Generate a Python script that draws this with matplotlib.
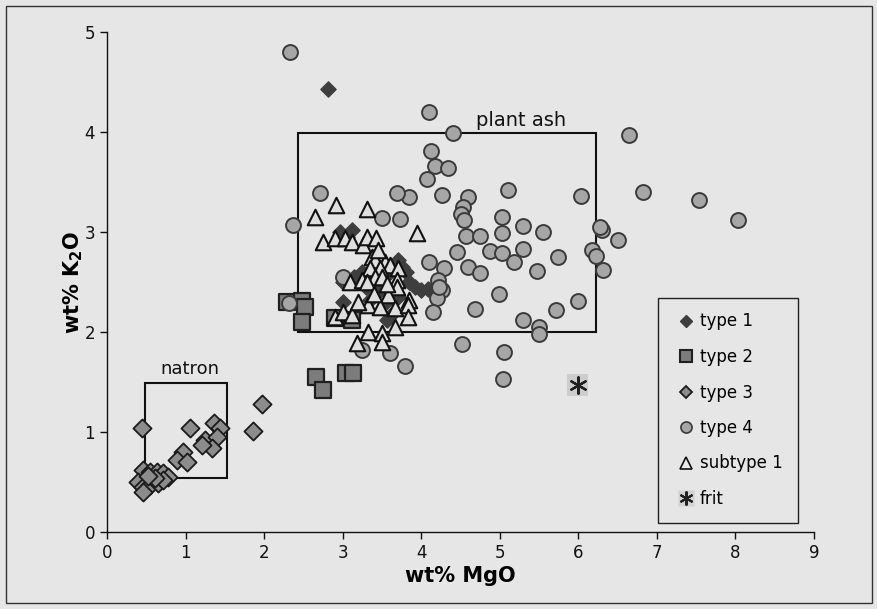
import matplotlib
matplotlib.use("Agg")
import matplotlib.pyplot as plt
from matplotlib.patches import Rectangle
from matplotlib.lines import Line2D
from matplotlib.legend_handler import HandlerTuple

# ---- data ----
type1_x = [2.81, 2.96, 3.12, 3.05, 3.00, 3.15, 3.25, 3.40, 3.50, 3.60, 3.70, 3.75, 3.80, 3.85, 3.92, 4.00, 4.08,
           3.00, 3.35, 3.47, 3.56, 3.65, 3.55, 3.30, 3.70]
type1_y = [4.43, 3.00, 3.02, 2.95, 2.50, 2.55, 2.60, 2.55, 2.45, 2.60, 2.72, 2.65, 2.60, 2.50, 2.45, 2.42, 2.43,
           2.30, 2.32, 2.42, 2.12, 2.20, 2.30, 2.45, 2.35]

type2_x = [2.29, 2.48, 2.52, 2.48, 2.90, 3.12, 2.66, 2.75, 3.04, 3.13]
type2_y = [2.30, 2.31, 2.25, 2.10, 2.14, 2.12, 1.55, 1.42, 1.59, 1.59]

type3_x = [0.45, 1.06, 1.97, 1.86, 1.36, 1.44, 1.25, 1.40, 1.34, 1.21, 0.97, 0.89, 1.02, 0.46, 0.55, 0.64,
           0.71, 0.78, 0.39, 0.46, 0.55, 0.65, 0.46, 0.71, 0.61, 0.52]
type3_y = [1.04, 1.04, 1.28, 1.01, 1.09, 1.04, 0.92, 0.95, 0.84, 0.87, 0.80, 0.72, 0.70, 0.62, 0.60, 0.60,
           0.59, 0.55, 0.50, 0.45, 0.47, 0.49, 0.40, 0.52, 0.54, 0.56]

type4_x = [2.33, 4.10, 4.40, 4.13, 4.17, 4.34, 4.07, 6.65, 6.82, 7.54, 8.03, 6.04, 5.10, 4.27, 3.85, 3.69,
           3.50, 3.73, 2.71, 2.37, 4.59, 4.53, 4.50, 4.55, 4.57, 4.75, 5.03, 5.03, 5.29, 5.55, 4.45, 4.87,
           5.03, 5.29, 5.18, 5.74, 5.48, 4.10, 4.29, 4.59, 4.75, 4.21, 4.27, 4.20, 4.15, 4.68, 4.99, 5.29,
           5.50, 5.50, 5.99, 5.71, 6.17, 6.23, 6.32, 6.30, 6.27, 6.51, 4.52, 5.06, 5.04, 3.00, 3.24, 3.60,
           3.79, 2.32, 4.22]
type4_y = [4.80, 4.20, 3.99, 3.81, 3.66, 3.64, 3.53, 3.97, 3.40, 3.32, 3.12, 3.36, 3.42, 3.37, 3.35, 3.39,
           3.14, 3.13, 3.39, 3.07, 3.35, 3.25, 3.18, 3.12, 2.96, 2.96, 3.15, 2.99, 3.06, 3.00, 2.80, 2.81,
           2.79, 2.83, 2.70, 2.75, 2.61, 2.70, 2.64, 2.65, 2.59, 2.52, 2.42, 2.34, 2.20, 2.23, 2.38, 2.12,
           2.05, 1.98, 2.31, 2.22, 2.82, 2.76, 2.62, 3.02, 3.05, 2.92, 1.88, 1.80, 1.53, 2.55, 1.82, 1.79,
           1.66, 2.29, 2.45]

sub1_x = [2.65, 2.91, 3.31, 3.94, 2.75, 2.90, 3.03, 3.12, 3.26, 3.31, 3.43, 3.37, 3.41, 3.54, 3.60, 3.70,
          3.47, 3.35, 3.09, 3.24, 3.41, 3.31, 3.69, 3.69, 3.85, 3.32, 3.58, 3.47, 3.66, 3.83, 3.83, 2.90,
          3.00, 3.12, 3.66, 3.32, 3.50, 3.18, 3.50, 3.45, 3.50, 3.56, 3.20, 3.40]
sub1_y = [3.15, 3.27, 3.23, 2.99, 2.90, 2.94, 2.94, 2.90, 2.87, 2.95, 2.94, 2.75, 2.72, 2.70, 2.67, 2.64,
          2.64, 2.64, 2.50, 2.52, 2.55, 2.50, 2.52, 2.45, 2.32, 2.27, 2.37, 2.25, 2.24, 2.27, 2.15, 2.15,
          2.20, 2.17, 2.05, 2.00, 1.99, 1.89, 1.90, 2.82, 2.55, 2.48, 2.30, 2.38]

frit_x = [5.99]
frit_y = [1.47]

# reference boxes (x0, y0, x1, y1)
plant_ash_box = (2.43, 2.0, 6.22, 3.99)
natron_box = (0.49, 0.54, 1.53, 1.49)

x_ticks = [0, 1, 2, 3, 4, 5, 6, 7, 8, 9]
y_ticks = [0, 1, 2, 3, 4, 5]

BG = "#e6e6e6"

fig = plt.figure(figsize=(8.78, 6.09), dpi=100, facecolor=BG)
ax = fig.add_axes([107/878, 77/609, 707/878, 500/609])
ax.set_facecolor(BG)

# boxes
for (x0, y0, x1, y1) in (plant_ash_box, natron_box):
    ax.add_patch(Rectangle((x0, y0), x1 - x0, y1 - y0, fill=False, edgecolor="#111111", lw=1.5, zorder=1))

ax.text(5.27, 4.12, "plant ash", ha="center", va="center", fontsize=14, color="#111111")
ax.text(1.06, 1.63, "natron", ha="center", va="center", fontsize=13, color="#111111")

ax.scatter(type1_x, type1_y, s=60, marker="D", facecolor="#3e3e3e", edgecolor="#3e3e3e", lw=1.0, zorder=2)
ax.scatter(type2_x, type2_y, s=140, marker="s", facecolor="#7c7c7c", edgecolor="#202020", lw=1.6, zorder=3)
ax.scatter(type3_x, type3_y, s=85, marker="D", facecolor="#8c8c8c", edgecolor="#1a1a1a", lw=1.3, zorder=3)
ax.scatter(type4_x, type4_y, s=115, marker="o", facecolor="#a6a6a6", edgecolor="#3a3a3a", lw=1.4, zorder=4)
ax.scatter(sub1_x, sub1_y, s=125, marker="^", facecolor="#dedede", edgecolor="#111111", lw=1.5, zorder=5)
ax.scatter(frit_x, frit_y, s=240, marker="s", facecolor="#cdcdcd", edgecolor="none", zorder=5)
ax.scatter(frit_x, frit_y, s=140, marker=(6, 2, 0), color="#202020", lw=1.6, zorder=6)

ax.set_xlim(0, 9)
ax.set_ylim(0, 5)
ax.set_xticks(x_ticks)
ax.set_yticks(y_ticks)
ax.tick_params(direction="out", length=5, width=1, labelsize=12, colors="#111111")
for s in ("top", "right"):
    ax.spines[s].set_visible(False)
for s in ("left", "bottom"):
    ax.spines[s].set_color("#111111")
    ax.spines[s].set_linewidth(1.0)

ax.set_xlabel("wt% MgO", fontsize=15, fontweight="bold", labelpad=3)
ax.set_ylabel(r"wt% K$_\mathbf{2}$O", fontsize=15, fontweight="bold", labelpad=0)

# legend
h1 = Line2D([], [], ls="none", marker="D", ms=6, mfc="#3e3e3e", mec="#3e3e3e")
h2 = Line2D([], [], ls="none", marker="s", ms=9, mfc="#7c7c7c", mec="#202020", mew=1.5)
h3 = Line2D([], [], ls="none", marker="D", ms=6, mfc="#8c8c8c", mec="#1a1a1a", mew=1.3)
h4 = Line2D([], [], ls="none", marker="o", ms=8, mfc="#a6a6a6", mec="#3a3a3a", mew=1.2)
h5 = Line2D([], [], ls="none", marker="^", ms=9, mfc="#e8e8e8", mec="#111111", mew=1.2)
h6a = Line2D([], [], ls="none", marker="s", ms=12, mfc="#d2d2d2", mec="none")
h6b = Line2D([], [], ls="none", marker=(6, 2, 0), ms=10, color="#202020", mew=1.5)
leg = ax.legend([h1, h2, h3, h4, h5, (h6a, h6b)],
                ["type 1", "type 2", "type 3", "type 4", "subtype 1", "frit"],
                handler_map={tuple: HandlerTuple(ndivide=1, pad=0)},
                loc="lower right", bbox_to_anchor=(0.977, 0.018), frameon=True, fancybox=False,
                fontsize=12, labelspacing=1.05, handlelength=1.5, handletextpad=0.1,
                borderpad=0.9, borderaxespad=0, facecolor=BG, edgecolor="#222222")
leg.get_frame().set_linewidth(1.0)
leg.get_frame().set_alpha(1)
leg.set_zorder(10)

# outer figure border
fig.patches.append(Rectangle((6/878, 6/609), 866/878, 597/609, transform=fig.transFigure,
                             fill=False, edgecolor="#333333", lw=1.0))

fig.savefig("out.png", dpi=100, facecolor=BG)
